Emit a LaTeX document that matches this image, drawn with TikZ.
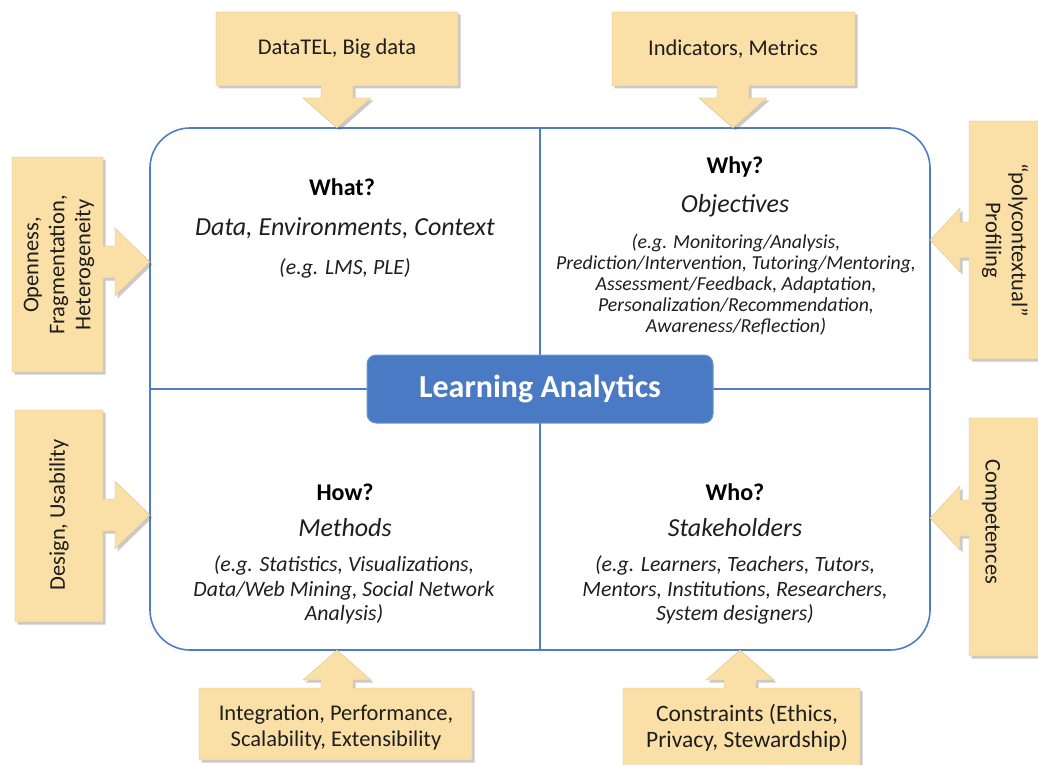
\documentclass[tikz,border=0pt]{standalone}
\usepackage{fontspec}
\setmainfont{Carlito}
\usetikzlibrary{shadows}
\definecolor{calloutfill}{RGB}{250,224,166}
\definecolor{frameblue}{RGB}{80,124,198}
\definecolor{centerblue}{RGB}{74,122,196}
\definecolor{centeredge}{RGB}{110,150,215}
\definecolor{txt}{RGB}{30,30,30}
\tikzset{
  callout/.style={fill=calloutfill, draw=calloutfill!85!black, line width=0.3pt,
    drop shadow={shadow xshift=2.5pt, shadow yshift=-2.5pt, opacity=0.35, fill=black!60}},
  callouttext/.style={text=txt, align=center, font=\fontsize{22.5}{26}\selectfont, inner sep=0pt},
  qtitle/.style={text=black, font=\bfseries\fontsize{24}{28}\selectfont, inner sep=0pt},
  qsub/.style={text=txt, font=\itshape\fontsize{26}{30}\selectfont, inner sep=0pt},
  qdetail/.style={text=txt, align=center, font=\itshape\fontsize{21.8}{24.5}\selectfont, inner sep=0pt},
  qdetailsmall/.style={text=txt, align=center, font=\itshape\fontsize{19.8}{21}\selectfont, inner sep=0pt},
}
\begin{document}
\begin{tikzpicture}[x=1pt,y=-1pt]
\useasboundingbox (0,0) rectangle (1038,765);
% main frame
\node[draw=frameblue, line width=1.6pt, rounded corners=40pt, minimum width=780pt, minimum height=522pt, inner sep=0pt] (frame) at (540,389) {};
\draw[frameblue, line width=1.6pt] (frame.north) -- (frame.south);
\draw[frameblue, line width=1.6pt] (frame.west) -- (frame.east);
% center box
\node[fill=centerblue, draw=centeredge, line width=1pt, rounded corners=9pt, minimum width=346pt, minimum height=68pt,
  text=white, font=\bfseries\fontsize{32}{36}\selectfont] (la) at (540,389) {Learning Analytics};

% callouts
% top-left (down arrow)
\path[callout] (216,12) -- (458,12) -- (458,86) -- (353,86) -- (353,98) -- (371,98) -- (337,128) -- (303,98) -- (321,98) -- (321,86) -- (216,86) -- cycle;
\node[callouttext] (c1) at (337,49) {DataTEL, Big data};
% top-right
\path[callout] (612,12) -- (855,12) -- (855,86) -- (749,86) -- (749,98) -- (767,98) -- (733,128) -- (699,98) -- (717,98) -- (717,86) -- (612,86) -- cycle;
\node[callouttext] (c2) at (733,49) {Indicators, Metrics};
% left-top (right arrow)
\path[callout] (12,157) -- (103,157) -- (103,246) -- (115,246) -- (115,228) -- (150,262) -- (115,296) -- (115,278) -- (103,278) -- (103,372) -- (12,372) -- cycle;
\node[callouttext, rotate=90] (c3) at (59,265) {Openness,\\Fragmentation,\\Heterogeneity};
% left-bottom
\path[callout] (15,410) -- (103,410) -- (103,499) -- (115,499) -- (115,481) -- (150,515) -- (115,549) -- (115,531) -- (103,531) -- (103,622) -- (15,622) -- cycle;
\node[callouttext, rotate=90] (c4) at (59,515) {Design, Usability};
% right-top (left arrow)
\path[callout] (1050,121) -- (969,121) -- (969,222) -- (960,222) -- (960,208) -- (930,240) -- (960,272) -- (960,258) -- (969,258) -- (969,359) -- (1050,359) -- cycle;
\node[callouttext, rotate=-90] (c5) at (1005,240) {``polycontextual''\\Profiling};
% right-bottom
\path[callout] (1050,418) -- (969,418) -- (969,500) -- (960,500) -- (960,486) -- (930,518) -- (960,550) -- (960,536) -- (969,536) -- (969,656) -- (1050,656) -- cycle;
\node[callouttext, rotate=-90] (c6) at (991,522) {Competences};
% bottom-left (up arrow)
\path[callout] (199,688) -- (321,688) -- (321,680) -- (303,680) -- (337,650) -- (371,680) -- (353,680) -- (353,688) -- (472,688) -- (472,760) -- (199,760) -- cycle;
\node[callouttext] (c7) at (336,728) {Integration, Performance,\\Scalability, Extensibility};
% bottom-right
\path[callout] (623,688) -- (724,688) -- (724,680) -- (706,680) -- (740,650) -- (774,680) -- (756,680) -- (756,688) -- (860,688) -- (860,775) -- (623,775) -- cycle;
\node[callouttext, font=\fontsize{23.5}{26.5}\selectfont] (c8) at (747,728) {Constraints (Ethics,\\Privacy, Stewardship)};

% quadrant texts
\node[qtitle] (whatT) at (342,187) {What?};
\node[qsub] (whatS) at (345,228) {Data, Environments, Context};
\node[qdetail] (whatD) at (345,268) {(e.g. LMS, PLE)};

\node[qtitle] (whyT) at (735,167) {Why?};
\node[qsub] (whyS) at (735,206) {Objectives};
\node[qdetailsmall] (whyD) at (736,285) {(e.g. Monitoring/Analysis,\\Prediction/Intervention, Tutoring/Mentoring,\\Assessment/Feedback, Adaptation,\\Personalization/Recommendation,\\Awareness/Reflection)};

\node[qtitle] (howT) at (345,492) {How?};
\node[qsub] (howS) at (345,528) {Methods};
\node[qdetail] (howD) at (344,590) {(e.g. Statistics, Visualizations,\\Data/Web Mining, Social Network\\Analysis)};

\node[qtitle] (whoT) at (735,492) {Who?};
\node[qsub] (whoS) at (735,528) {Stakeholders};
\node[qdetail] (whoD) at (735,590) {(e.g. Learners, Teachers, Tutors,\\Mentors, Institutions, Researchers,\\System designers)};
\end{tikzpicture}
\end{document}
